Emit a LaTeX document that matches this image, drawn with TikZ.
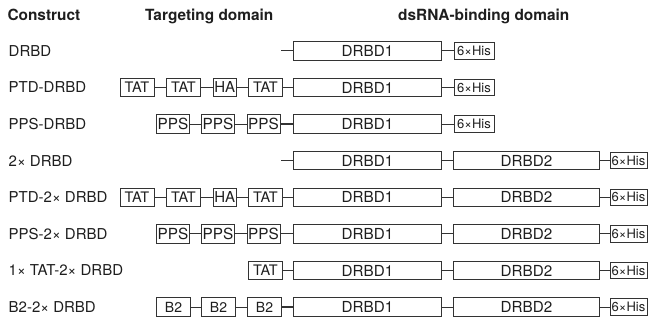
\documentclass[tikz,border=0pt]{standalone}
\usepackage{fontspec}
\setmainfont{TeX Gyre Heros}
\definecolor{ink}{HTML}{1E1E1E}
\definecolor{edge}{HTML}{333333}
\tikzset{
  hdr/.style={anchor=base west, inner sep=0pt, text=ink, font=\bfseries\fontsize{15.4}{17}\selectfont},
  rowlbl/.style={anchor=base west, inner sep=0pt, text=ink, font=\fontsize{15}{17}\selectfont},
  box/.style={draw=edge, line width=0.95pt, anchor=west, inner sep=0pt, minimum height=18.3pt, text=ink},
  drbd/.style={box, minimum width=148pt, font=\fontsize{15.2}{17}\selectfont},
  tat/.style={box, minimum width=34pt, font=\fontsize{14.5}{16}\selectfont},
  ha/.style={box, minimum width=23.5pt, font=\fontsize{15}{17}\selectfont},
  pps/.style={box, minimum width=33pt, font=\fontsize{15.3}{17}\selectfont},
  btwo/.style={box, minimum width=34pt, font=\fontsize{14}{16}\selectfont},
  his/.style={box, minimum width=40pt, minimum height=16.5pt, font=\fontsize{13}{14}\selectfont},
  link/.style={draw=edge, line width=0.95pt},
  heavylink/.style={draw=edge, line width=1.4pt}
}
\begin{document}
\begin{tikzpicture}[x=1pt,y=-1pt]
\useasboundingbox (0,0) rectangle (648,324);

% column headings
\node[hdr] (hc) at (7.3,20.7) {Construct};
\node[hdr] (ht) at (145,20.7) {Targeting domain};
\node[hdr] (hd) at (398,20.7) {dsRNA-binding domain};

% row labels
\node[rowlbl] (l1) at (8.5,56.3) {DRBD};
\node[rowlbl] (l2) at (8.5,92.9) {PTD-DRBD};
\node[rowlbl] (l3) at (8.5,129.5) {PPS-DRBD};
\node[rowlbl] (l4) at (8.5,166.1) {2× DRBD};
\node[rowlbl] (l5) at (8.5,202.7) {PTD-2× DRBD};
\node[rowlbl] (l6) at (8.5,239.3) {PPS-2× DRBD};
\node[rowlbl] (l7) at (8.5,275.9) {1× TAT-2× DRBD};
\node[rowlbl] (l8) at (8.5,312.5) {B2-2× DRBD};

% DRBD
\coordinate (s1) at (281,50.9);
\node[drbd] (a1) at (293,50.9) {DRBD1};
\node[his] (h1) at (453.5,50.9) {6×His};
\draw[link] (s1) -- (a1.west);
\draw[link] (a1.east) -- (h1.west);

% PTD-DRBD
\node[tat] (t21) at (119.5,87.5) {TAT};
\node[tat] (t22) at (166,87.5) {TAT};
\node[ha]  (t23) at (212.5,87.5) {HA};
\node[tat] (t24) at (248,87.5) {TAT};
\node[drbd] (a2) at (293,87.5) {DRBD1};
\node[his] (h2) at (453.5,87.5) {6×His};
\draw[link] (t21.east) -- (t22.west);
\draw[link] (t22.east) -- (t23.west);
\draw[link] (t23.east) -- (t24.west);
\draw[link] (t24.east) -- (a2.west);
\draw[link] (a2.east) -- (h2.west);

% PPS-DRBD
\node[pps] (p31) at (156,124.1) {PPS};
\node[pps] (p32) at (201,124.1) {PPS};
\node[pps] (p33) at (246.5,124.1) {PPS};
\node[drbd] (a3) at (293,124.1) {DRBD1};
\node[his] (h3) at (453.5,124.1) {6×His};
\draw[link] (p31.east) -- (p32.west);
\draw[link] (p32.east) -- (p33.west);
\draw[heavylink] (p33.east) -- (a3.west);
\draw[link] (a3.east) -- (h3.west);

% 2x DRBD
\coordinate (s4) at (281,160.7);
\node[drbd] (a4) at (293,160.7) {DRBD1};
\node[drbd, minimum width=146pt] (b4) at (453,160.7) {DRBD2};
\node[his, minimum width=37pt] (h4) at (609.5,160.7) {6×His};
\draw[link] (s4) -- (a4.west);
\draw[link] (a4.east) -- (b4.west);
\draw[link] (b4.east) -- (h4.west);

% PTD-2x DRBD
\node[tat] (t51) at (119.5,197.3) {TAT};
\node[tat] (t52) at (166,197.3) {TAT};
\node[ha]  (t53) at (212.5,197.3) {HA};
\node[tat] (t54) at (248,197.3) {TAT};
\node[drbd] (a5) at (293,197.3) {DRBD1};
\node[drbd, minimum width=146pt] (b5) at (453,197.3) {DRBD2};
\node[his, minimum width=37pt] (h5) at (609.5,197.3) {6×His};
\draw[link] (t51.east) -- (t52.west);
\draw[link] (t52.east) -- (t53.west);
\draw[link] (t53.east) -- (t54.west);
\draw[link] (t54.east) -- (a5.west);
\draw[link] (a5.east) -- (b5.west);
\draw[link] (b5.east) -- (h5.west);

% PPS-2x DRBD
\node[pps] (p61) at (156,233.9) {PPS};
\node[pps] (p62) at (201,233.9) {PPS};
\node[pps] (p63) at (246.5,233.9) {PPS};
\node[drbd] (a6) at (293,233.9) {DRBD1};
\node[drbd, minimum width=146pt] (b6) at (453,233.9) {DRBD2};
\node[his, minimum width=37pt] (h6) at (609.5,233.9) {6×His};
\draw[link] (p61.east) -- (p62.west);
\draw[link] (p62.east) -- (p63.west);
\draw[link] (p63.east) -- (a6.west);
\draw[link] (a6.east) -- (b6.west);
\draw[link] (b6.east) -- (h6.west);

% 1x TAT-2x DRBD
\node[tat] (t71) at (248,270.5) {TAT};
\node[drbd] (a7) at (293,270.5) {DRBD1};
\node[drbd, minimum width=146pt] (b7) at (453,270.5) {DRBD2};
\node[his, minimum width=37pt] (h7) at (609.5,270.5) {6×His};
\draw[link] (t71.east) -- (a7.west);
\draw[link] (a7.east) -- (b7.west);
\draw[link] (b7.east) -- (h7.west);

% B2-2x DRBD
\node[btwo] (q81) at (156,307.1) {B2};
\node[btwo] (q82) at (201,307.1) {B2};
\node[btwo] (q83) at (247,307.1) {B2};
\node[drbd] (a8) at (293,307.1) {DRBD1};
\node[drbd, minimum width=146pt] (b8) at (453,307.1) {DRBD2};
\node[his, minimum width=37pt] (h8) at (609.5,307.1) {6×His};
\draw[link] (q81.east) -- (q82.west);
\draw[link] (q82.east) -- (q83.west);
\draw[heavylink] (q83.east) -- (a8.west);
\draw[link] (a8.east) -- (b8.west);
\draw[link] (b8.east) -- (h8.west);
\end{tikzpicture}
\end{document}
